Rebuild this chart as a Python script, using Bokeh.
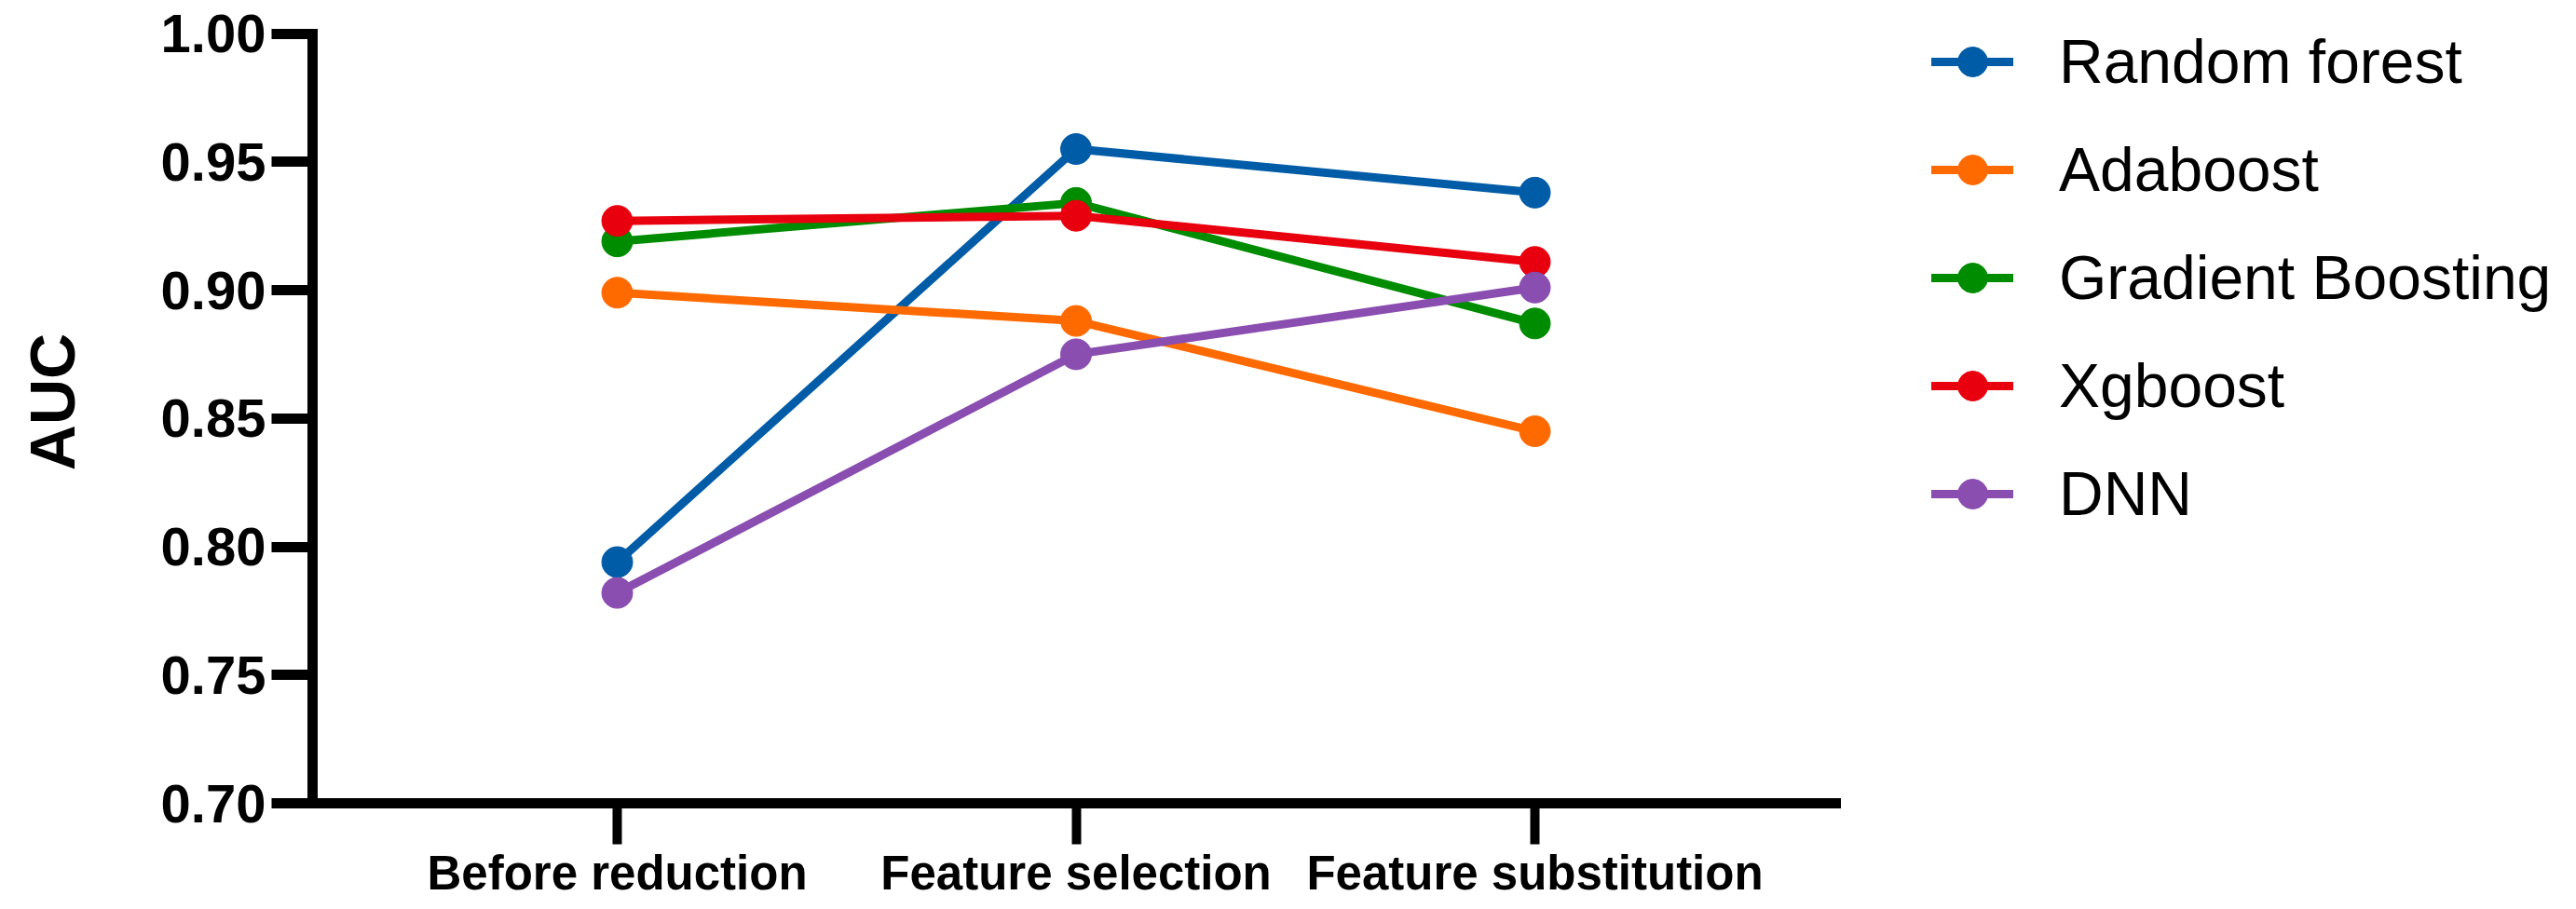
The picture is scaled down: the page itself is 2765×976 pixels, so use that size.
from bokeh.plotting import figure
from bokeh.models import (Range1d, FixedTicker, Legend, LegendItem,
                          NumeralTickFormatter)
from bokeh.embed import file_html
from bokeh.resources import INLINE

categories = ["Before reduction", "Feature selection", "Feature substitution"]
series_names = ["Random forest", "Adaboost", "Gradient Boosting", "Xgboost", "DNN"]
random_forest = [0.794, 0.955, 0.938]
adaboost = [0.899, 0.888, 0.845]
gradient_boosting = [0.919, 0.934, 0.887]
xgboost = [0.927, 0.929, 0.911]
dnn = [0.782, 0.875, 0.901]
series_values = [random_forest, adaboost, gradient_boosting, xgboost, dnn]
colors = ["#015CA8", "#FF6A00", "#008C00", "#E8000F", "#8A4DB0"]
y_ticks = [0.70, 0.75, 0.80, 0.85, 0.90, 0.95, 1.00]

FONT = "Liberation Sans"
W, H = 2760, 968
LEFT, BOTTOM = 335, 105
FRAME_H = H - BOTTOM

x_idx = list(range(len(categories)))

p = figure(width=W, height=H, output_backend="svg", toolbar_location=None,
           title=None,
           x_range=Range1d(-0.664, -0.664 + (W - LEFT) / 492.5),
           y_range=Range1d(0.70, 1.0129),
           min_border_left=LEFT, min_border_right=0, min_border_top=0,
           min_border_bottom=BOTTOM)
p.outline_line_color = None
p.xgrid.visible = False
p.ygrid.visible = False
p.background_fill_color = "white"
p.border_fill_color = "white"

items = []
for name, vals, col in zip(series_names, series_values, colors):
    lr = p.line(x_idx, vals, line_color=col, line_width=9, line_cap="round", line_join="round")
    sr = p.scatter(x_idx, vals, size=33, fill_color=col, line_color=col, line_width=1)
    items.append(LegendItem(label=name, renderers=[lr, sr]))

# axes
for ax in (p.xaxis[0], p.yaxis[0]):
    ax.axis_line_width = 11
    ax.axis_line_color = "black"
    ax.axis_line_cap = "square"
    ax.major_tick_line_width = 11
    ax.major_tick_line_color = "black"
    ax.major_tick_out = 44
    ax.major_tick_in = 0
    ax.minor_tick_line_color = None
    ax.major_label_text_font = FONT
    ax.major_label_text_font_style = "bold"
    ax.major_label_text_color = "black"

xa = p.xaxis[0]
xa.ticker = FixedTicker(ticks=x_idx)
xa.major_label_overrides = {i: c for i, c in zip(x_idx, categories)}
xa.bounds = (-0.664, 2.655)
xa.major_label_text_font_size = "51px"
xa.major_label_standoff = 2
xa.major_tick_line_width = 10

ya = p.yaxis[0]
ya.ticker = FixedTicker(ticks=y_ticks)
ya.formatter = NumeralTickFormatter(format="0.00")
ya.bounds = (0.70, 1.00)
ya.major_label_text_font_size = "58px"
ya.major_label_standoff = 6
ya.axis_label = "AUC"
ya.axis_label_text_font = FONT
ya.axis_label_text_font_style = "bold"
ya.axis_label_text_font_size = "68px"
ya.axis_label_text_color = "black"
ya.axis_label_standoff = 76

leg_h = 2 * 10 + 5 * 80 + 4 * 36
legend = Legend(items=items, location=(2073 - LEFT, FRAME_H - (6.7 + leg_h)),
                glyph_width=88, glyph_height=80, label_height=80,
                label_standoff=49, spacing=36, padding=10, margin=0,
                label_text_font=FONT, label_text_font_size="66px",
                label_text_color="black",
                border_line_color=None, background_fill_alpha=0)
p.add_layout(legend, "center")

open("out.html", "w").write(file_html(p, INLINE))
